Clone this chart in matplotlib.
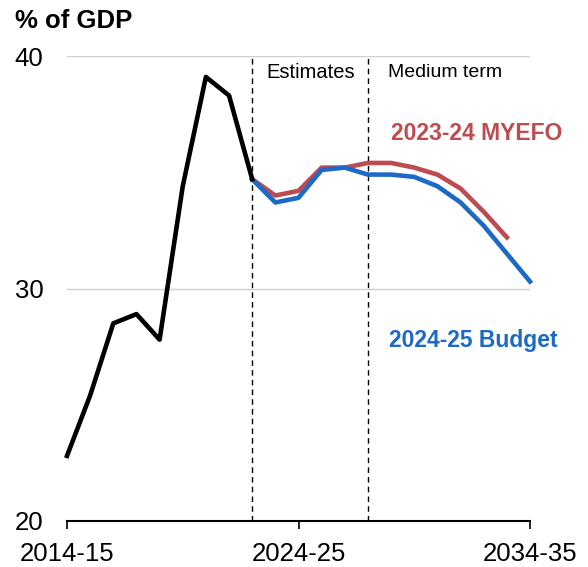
import numpy as np
import matplotlib.pyplot as plt

plt.rcParams["font.family"] = ["Liberation Sans", "DejaVu Sans"]

# Data (% of GDP), years 2014-15 .. 2034-35
years = ["2014-15", "2015-16", "2016-17", "2017-18", "2018-19", "2019-20", "2020-21",
         "2021-22", "2022-23", "2023-24", "2024-25", "2025-26", "2026-27", "2027-28",
         "2028-29", "2029-30", "2030-31", "2031-32", "2032-33", "2033-34", "2034-35"]
actual = [22.8, 25.4, 28.5, 28.9, 27.8, 34.4, 39.1, 38.3, 34.7]
budget = [34.7, 33.7, 33.9, 35.1, 35.2, 34.9, 34.9, 34.8, 34.4, 33.7, 32.7, 31.5, 30.3]
myefo = [34.7, 34.0, 34.2, 35.2, 35.2, 35.4, 35.4, 35.2, 34.9, 34.3, 33.3, 32.2]
tick_years = ["2014-15", "2024-25", "2034-35"]

x = np.arange(len(years))

fig = plt.figure(figsize=(5.88, 5.67), dpi=100)
ax = fig.add_axes([67 / 588, 46 / 567, 463 / 588, 465 / 567])

red = "#BE4B4F"
blue = "#1C6AC6"

ax.plot(x[8:8 + len(myefo)], myefo, color=red, lw=3.3, clip_on=False)
ax.plot(x[8:8 + len(budget)], budget, color=blue, lw=3.3, clip_on=False)
ax.plot(x[:len(actual)], actual, color="black", lw=3.3, clip_on=False)

# projection period dividers
ax.axvline(8, color="black", lw=1, ls=(0, (4, 3)), zorder=0)
ax.axvline(13, color="black", lw=1, ls=(0, (4, 3)), zorder=0)

ax.set_xlim(0, 20)
ax.set_ylim(20, 40)
ax.set_yticks([20, 30, 40])
ax.yaxis.grid(True, color="#D0D0D0", lw=1)
ax.set_axisbelow(True)
ax.tick_params(axis="y", length=0, pad=17, labelsize=18.5)
ax.set_xticks([years.index(t) for t in tick_years])
ax.set_xticklabels(tick_years)
ax.tick_params(axis="x", length=6, width=1.2, pad=9, labelsize=18.5)

for s in ["top", "right", "left"]:
    ax.spines[s].set_visible(False)
ax.spines["bottom"].set_linewidth(1.5)

ax.text(8.62, 39.3, "Estimates", fontsize=14.5, va="center", ha="left")
ax.text(13.85, 39.3, "Medium term", fontsize=14, va="center", ha="left")
ax.text(14.0, 36.65, "2023-24 MYEFO", fontsize=16.5, fontweight="bold", color=red, va="center")
ax.text(13.9, 27.75, "2024-25 Budget", fontsize=16.5, fontweight="bold", color=blue, va="center")

fig.text(15 / 588, 1 - 9 / 567, "% of GDP", fontsize=18.5, fontweight="bold", va="top", ha="left")

fig.savefig("out.png", dpi=100)
